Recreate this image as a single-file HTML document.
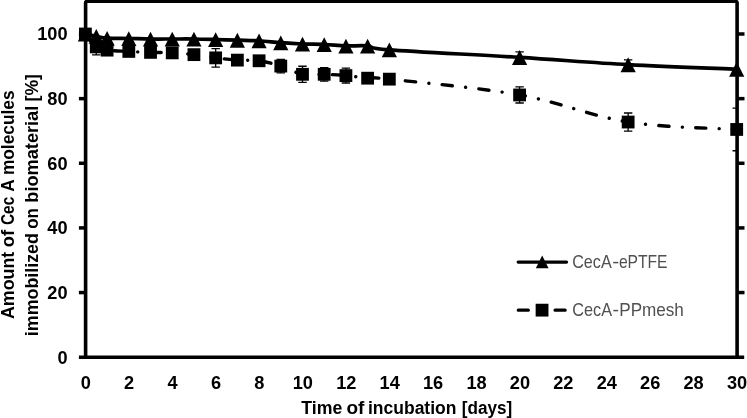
<!DOCTYPE html>
<html lang="en"><head><meta charset="utf-8"><title>Cec A immobilization chart</title>
<style>html,body{margin:0;padding:0;background:#fff}body{width:747px;height:418px;overflow:hidden}svg{display:block}text{font-family:"Liberation Sans",sans-serif}.b{font-weight:bold;fill:#000}.g{fill:#505050}</style></head><body>
<svg width="747" height="418" viewBox="0 0 747 418">
<rect width="747" height="418" fill="#fff"/>
<path d="M85.60 357.20 V3.10 Q85.60 1.30 87.40 1.30 H735.30 Q737.10 1.30 737.10 3.10 V357.20" fill="none" stroke="#000" stroke-width="3.60"/>
<line x1="78.90" y1="357.20" x2="744.20" y2="357.20" stroke="#000" stroke-width="3.50"/>
<line x1="78.9" y1="292.56" x2="85.60" y2="292.56" stroke="#000" stroke-width="3.5"/>
<line x1="737.10" y1="292.56" x2="744.5" y2="292.56" stroke="#000" stroke-width="3.5"/>
<line x1="78.9" y1="227.92" x2="85.60" y2="227.92" stroke="#000" stroke-width="3.5"/>
<line x1="737.10" y1="227.92" x2="744.5" y2="227.92" stroke="#000" stroke-width="3.5"/>
<line x1="78.9" y1="163.28" x2="85.60" y2="163.28" stroke="#000" stroke-width="3.5"/>
<line x1="737.10" y1="163.28" x2="744.5" y2="163.28" stroke="#000" stroke-width="3.5"/>
<line x1="78.9" y1="98.64" x2="85.60" y2="98.64" stroke="#000" stroke-width="3.5"/>
<line x1="737.10" y1="98.64" x2="744.5" y2="98.64" stroke="#000" stroke-width="3.5"/>
<line x1="78.9" y1="34.00" x2="85.60" y2="34.00" stroke="#000" stroke-width="3.5"/>
<line x1="737.10" y1="34.00" x2="744.5" y2="34.00" stroke="#000" stroke-width="3.5"/>
<text class="b" x="67.6" y="363.65" font-size="18.20" text-anchor="end">0</text>
<text class="b" x="67.6" y="299.01" font-size="18.20" text-anchor="end">20</text>
<text class="b" x="67.6" y="234.37" font-size="18.20" text-anchor="end">40</text>
<text class="b" x="67.6" y="169.73" font-size="18.20" text-anchor="end">60</text>
<text class="b" x="67.6" y="105.09" font-size="18.20" text-anchor="end">80</text>
<text class="b" x="67.6" y="40.45" font-size="18.20" text-anchor="end">100</text>
<text class="b" x="85.75" y="389.0" font-size="18.20" text-anchor="middle">0</text>
<text class="b" x="129.17" y="389.0" font-size="18.20" text-anchor="middle">2</text>
<text class="b" x="172.59" y="389.0" font-size="18.20" text-anchor="middle">4</text>
<text class="b" x="216.01" y="389.0" font-size="18.20" text-anchor="middle">6</text>
<text class="b" x="259.43" y="389.0" font-size="18.20" text-anchor="middle">8</text>
<text class="b" x="302.85" y="389.0" font-size="18.20" text-anchor="middle">10</text>
<text class="b" x="346.27" y="389.0" font-size="18.20" text-anchor="middle">12</text>
<text class="b" x="389.69" y="389.0" font-size="18.20" text-anchor="middle">14</text>
<text class="b" x="433.11" y="389.0" font-size="18.20" text-anchor="middle">16</text>
<text class="b" x="476.53" y="389.0" font-size="18.20" text-anchor="middle">18</text>
<text class="b" x="519.95" y="389.0" font-size="18.20" text-anchor="middle">20</text>
<text class="b" x="563.37" y="389.0" font-size="18.20" text-anchor="middle">22</text>
<text class="b" x="606.79" y="389.0" font-size="18.20" text-anchor="middle">24</text>
<text class="b" x="650.21" y="389.0" font-size="18.20" text-anchor="middle">26</text>
<text class="b" x="693.63" y="389.0" font-size="18.20" text-anchor="middle">28</text>
<text class="b" x="737.05" y="389.0" font-size="18.20" text-anchor="middle">30</text>
<text class="b" x="301.22" y="414.00" font-size="18.70" textLength="41.01" lengthAdjust="spacingAndGlyphs">Time</text>
<text class="b" x="346.44" y="414.00" font-size="18.70" textLength="17.94" lengthAdjust="spacingAndGlyphs">of</text>
<text class="b" x="367.97" y="414.00" font-size="18.70" textLength="88.48" lengthAdjust="spacingAndGlyphs">incubation</text>
<text class="b" x="461.76" y="414.00" font-size="18.70" textLength="50.48" lengthAdjust="spacingAndGlyphs">[days]</text>
<text class="b" transform="translate(14.20 318.60) rotate(-90)" x="-0.45" y="0" font-size="18.70" textLength="67.36" lengthAdjust="spacingAndGlyphs">Amount</text>
<text class="b" transform="translate(14.20 246.60) rotate(-90)" x="-0.73" y="0" font-size="18.70" textLength="17.31" lengthAdjust="spacingAndGlyphs">of</text>
<text class="b" transform="translate(14.20 224.50) rotate(-90)" x="-0.62" y="0" font-size="18.70" textLength="28.38" lengthAdjust="spacingAndGlyphs">Cec</text>
<text class="b" transform="translate(14.20 191.40) rotate(-90)" x="-0.43" y="0" font-size="18.70" textLength="12.50" lengthAdjust="spacingAndGlyphs">A</text>
<text class="b" transform="translate(14.20 174.00) rotate(-90)" x="-1.12" y="0" font-size="18.70" textLength="84.64" lengthAdjust="spacingAndGlyphs">molecules</text>
<text class="b" transform="translate(38.30 334.90) rotate(-90)" x="-1.25" y="0" font-size="18.70" textLength="103.07" lengthAdjust="spacingAndGlyphs">immobilized</text>
<text class="b" transform="translate(38.30 228.10) rotate(-90)" x="-0.68" y="0" font-size="18.70" textLength="20.73" lengthAdjust="spacingAndGlyphs">on</text>
<text class="b" transform="translate(38.30 201.50) rotate(-90)" x="-1.18" y="0" font-size="18.70" textLength="96.94" lengthAdjust="spacingAndGlyphs">biomaterial</text>
<text class="b" transform="translate(38.30 100.50) rotate(-90)" x="-0.97" y="0" font-size="18.70" textLength="27.32" lengthAdjust="spacingAndGlyphs">[%]</text>
<path d="M85.40 34.00 C87.21 34.38 92.64 35.56 96.26 36.26 C99.87 36.96 101.68 37.82 107.11 38.19 C112.54 38.57 121.58 38.38 128.82 38.51 C136.06 38.65 143.29 38.92 150.53 39.00 C157.77 39.08 165.00 39.00 172.24 39.00 C179.48 39.00 186.71 38.92 193.95 39.00 C201.19 39.08 208.42 39.29 215.66 39.48 C222.90 39.67 230.13 39.91 237.37 40.13 C244.61 40.34 251.84 40.34 259.08 40.77 C266.32 41.20 273.55 42.17 280.79 42.71 C288.03 43.24 295.26 43.70 302.50 44.00 C309.74 44.29 316.97 44.16 324.21 44.48 C331.45 44.80 338.68 45.69 345.92 45.93 C353.16 46.17 360.39 45.29 367.63 45.93 C374.87 46.58 364.01 47.89 389.34 49.80 C414.67 51.71 479.80 54.91 519.60 57.38 C559.40 59.85 591.97 62.68 628.15 64.64 C664.33 66.60 718.61 68.40 736.70 69.15" fill="none" stroke="#000" stroke-width="3.70" stroke-linecap="round" stroke-linejoin="round"/>
<path d="M85.40 34.00 C87.21 36.15 92.64 44.21 96.26 46.90 C99.87 49.59 101.68 49.37 107.11 50.12 C112.54 50.88 121.58 51.04 128.82 51.42 C136.06 51.79 143.29 52.14 150.53 52.38 C157.77 52.62 165.00 52.49 172.24 52.87 C179.48 53.24 186.71 53.81 193.95 54.64 C201.19 55.47 208.42 56.95 215.66 57.87 C222.90 58.78 230.13 59.64 237.37 60.12 C244.61 60.61 251.84 59.77 259.08 60.77 C266.32 61.76 273.55 63.83 280.79 66.09 C288.03 68.35 295.26 72.94 302.50 74.31 C309.74 75.68 316.97 74.10 324.21 74.31 C331.45 74.53 338.68 74.96 345.92 75.60 C353.16 76.25 360.39 77.59 367.63 78.18 C374.87 78.77 364.01 76.35 389.34 79.15 C414.67 81.94 479.80 87.80 519.60 94.95 C559.40 102.10 591.97 116.29 628.15 122.04 C664.33 127.79 718.61 128.22 736.70 129.46" fill="none" stroke="#000" stroke-width="3.40" stroke-linecap="round" stroke-linejoin="round" stroke-dasharray="10.15 13.325 0.01 13.325" stroke-dashoffset="1.25"/>
<clipPath id="pc"><rect x="85.60" y="0" width="651.50" height="357.20"/></clipPath>
<g clip-path="url(#pc)" stroke="#000" stroke-width="1.3" fill="none">
<path d="M519.60 51.90 V62.86 M515.40 51.90 H523.80 M515.40 62.86 H523.80"/>
<path d="M628.15 59.80 V69.47 M623.95 59.80 H632.35 M623.95 69.47 H632.35"/>
<path d="M96.26 38.84 V54.96 M92.06 38.84 H100.46 M92.06 54.96 H100.46"/>
<path d="M107.11 46.90 V53.35 M102.91 46.90 H111.31 M102.91 53.35 H111.31"/>
<path d="M215.66 48.67 V67.06 M211.46 48.67 H219.86 M211.46 67.06 H219.86"/>
<path d="M280.79 59.32 V72.86 M276.59 59.32 H284.99 M276.59 72.86 H284.99"/>
<path d="M302.50 66.25 V82.38 M298.30 66.25 H306.70 M298.30 82.38 H306.70"/>
<path d="M324.21 67.54 V81.09 M320.01 67.54 H328.41 M320.01 81.09 H328.41"/>
<path d="M345.92 68.19 V83.02 M341.72 68.19 H350.12 M341.72 83.02 H350.12"/>
<path d="M519.60 86.89 V103.01 M515.40 86.89 H523.80 M515.40 103.01 H523.80"/>
<path d="M628.15 113.01 V131.07 M623.95 113.01 H632.35 M623.95 131.07 H632.35"/>
<path d="M736.70 108.17 V150.74 M732.50 108.17 H740.90 M732.50 150.74 H740.90"/>
</g>
<g fill="#000">
<path d="M85.40 26.70 L93.00 41.50 L77.80 41.50 Z"/>
<path d="M96.26 28.96 L103.86 43.76 L88.66 43.76 Z"/>
<path d="M107.11 30.89 L114.71 45.69 L99.51 45.69 Z"/>
<path d="M128.82 31.21 L136.42 46.01 L121.22 46.01 Z"/>
<path d="M150.53 31.70 L158.13 46.50 L142.93 46.50 Z"/>
<path d="M172.24 31.70 L179.84 46.50 L164.64 46.50 Z"/>
<path d="M193.95 31.70 L201.55 46.50 L186.35 46.50 Z"/>
<path d="M215.66 32.18 L223.26 46.98 L208.06 46.98 Z"/>
<path d="M237.37 32.83 L244.97 47.63 L229.77 47.63 Z"/>
<path d="M259.08 33.47 L266.68 48.27 L251.48 48.27 Z"/>
<path d="M280.79 35.41 L288.39 50.21 L273.19 50.21 Z"/>
<path d="M302.50 36.70 L310.10 51.50 L294.90 51.50 Z"/>
<path d="M324.21 37.18 L331.81 51.98 L316.61 51.98 Z"/>
<path d="M345.92 38.63 L353.52 53.43 L338.32 53.43 Z"/>
<path d="M367.63 38.63 L375.23 53.43 L360.03 53.43 Z"/>
<path d="M389.34 42.50 L396.94 57.30 L381.74 57.30 Z"/>
<path d="M519.60 50.08 L527.20 64.88 L512.00 64.88 Z"/>
<path d="M628.15 57.34 L635.75 72.14 L620.55 72.14 Z"/>
<path d="M736.70 61.85 L744.30 76.65 L729.10 76.65 Z"/>
<rect x="79.00" y="27.60" width="12.80" height="12.80"/>
<rect x="89.86" y="40.50" width="12.80" height="12.80"/>
<rect x="100.71" y="43.73" width="12.80" height="12.80"/>
<rect x="122.42" y="45.02" width="12.80" height="12.80"/>
<rect x="144.13" y="45.98" width="12.80" height="12.80"/>
<rect x="165.84" y="46.47" width="12.80" height="12.80"/>
<rect x="187.55" y="48.24" width="12.80" height="12.80"/>
<rect x="209.26" y="51.47" width="12.80" height="12.80"/>
<rect x="230.97" y="53.72" width="12.80" height="12.80"/>
<rect x="252.68" y="54.37" width="12.80" height="12.80"/>
<rect x="274.39" y="59.69" width="12.80" height="12.80"/>
<rect x="296.10" y="67.91" width="12.80" height="12.80"/>
<rect x="317.81" y="67.91" width="12.80" height="12.80"/>
<rect x="339.52" y="69.20" width="12.80" height="12.80"/>
<rect x="361.23" y="71.78" width="12.80" height="12.80"/>
<rect x="382.94" y="72.75" width="12.80" height="12.80"/>
<rect x="513.20" y="88.55" width="12.80" height="12.80"/>
<rect x="621.75" y="115.64" width="12.80" height="12.80"/>
<rect x="730.30" y="123.06" width="12.80" height="12.80"/>
</g>
<line x1="518.2" y1="262.1" x2="566.5" y2="262.1" stroke="#000" stroke-width="3.30" stroke-linecap="round"/>
<path fill="#000" d="M542.2 255.5 L548.6 268.2 L535.8 268.2 Z"/>
<line x1="518.3" y1="310.2" x2="565.2" y2="310.2" stroke="#000" stroke-width="3.30" stroke-linecap="round" stroke-dasharray="10 13.4 0.01 13.4"/>
<g fill="#000"><rect x="535.65" y="303.75" width="12.80" height="12.80"/></g>
<text class="g" x="572.19" y="268.10" font-size="18.40" textLength="39.51" lengthAdjust="spacingAndGlyphs">CecA</text>
<text class="g" x="612.16" y="268.10" font-size="18.40" textLength="6.93" lengthAdjust="spacingAndGlyphs">-</text>
<text class="g" x="618.90" y="268.10" font-size="18.40" textLength="48.66" lengthAdjust="spacingAndGlyphs">ePTFE</text>
<text class="g" x="572.19" y="315.70" font-size="18.40" textLength="39.82" lengthAdjust="spacingAndGlyphs">CecA</text>
<text class="g" x="612.52" y="315.70" font-size="18.40" textLength="6.53" lengthAdjust="spacingAndGlyphs">-</text>
<text class="g" x="619.23" y="315.70" font-size="18.40" textLength="64.67" lengthAdjust="spacingAndGlyphs">PPmesh</text>
</svg></body></html>
